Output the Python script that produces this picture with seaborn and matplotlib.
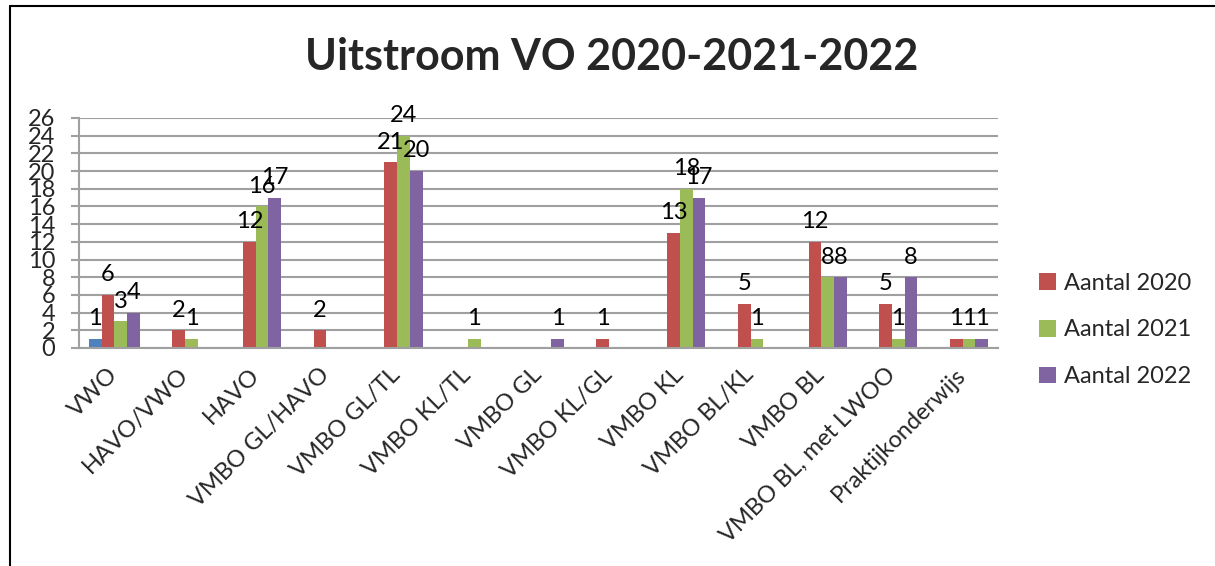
import numpy as np
import pandas as pd
import matplotlib
matplotlib.use("Agg")
import matplotlib.pyplot as plt
from matplotlib.lines import Line2D
from matplotlib.patches import Patch
import seaborn as sns

categories = ["VWO", "HAVO/VWO", "HAVO", "VMBO GL/HAVO", "VMBO GL/TL", "VMBO KL/TL",
              "VMBO GL", "VMBO KL/GL", "VMBO KL", "VMBO BL/KL", "VMBO BL",
              "VMBO BL, met LWOO", "Praktijkonderwijs"]
series_names = ["Reeks 1", "Aantal 2020", "Aantal 2021", "Aantal 2022"]
reeks1 = [1, 0, 0, 0, 0, 0, 0, 0, 0, 0, 0, 0, 0]
aantal_2020 = [6, 2, 12, 2, 21, 0, 0, 1, 13, 5, 12, 5, 1]
aantal_2021 = [3, 1, 16, 0, 24, 1, 0, 0, 18, 1, 8, 1, 1]
aantal_2022 = [4, 0, 17, 0, 20, 0, 1, 0, 17, 0, 8, 8, 1]
y_ticks = list(range(0, 27, 2))

colors = ["#4F81BD", "#C0504D", "#9BBB59", "#8064A2"]

rows = []
for name, vals in zip(series_names, [reeks1, aantal_2020, aantal_2021, aantal_2022]):
    for c, v in zip(categories, vals):
        rows.append({"categorie": c, "reeks": name, "waarde": v})
df = pd.DataFrame(rows)

sns.set_theme(style="white")
plt.rcParams["font.family"] = ["Lato", "DejaVu Sans"]

W, H = 1215, 566
fig = plt.figure(figsize=(W / 100, H / 100), dpi=100)
ax = fig.add_axes([79 / W, 1 - 348 / H, (998 - 79) / W, (348 - 118) / H])

sns.barplot(data=df, x="categorie", y="waarde", hue="reeks", order=categories,
            hue_order=series_names, palette=colors, width=0.72, gap=0,
            linewidth=0, saturation=1, ax=ax, legend=False, errorbar=None)

for cont in ax.containers:
    labels = [("%d" % b.get_height()) if b.get_height() > 0 else "" for b in cont]
    ax.bar_label(cont, labels=labels, padding=7, fontsize=17, color="black")

ax.set_ylim(0, 26)
ax.set_xlim(-0.5, len(categories) - 0.5)
ax.set_yticks(y_ticks)
ax.set_yticklabels([str(t) for t in y_ticks], fontsize=17)
ax.yaxis.grid(True, color="#A0A0A0", linewidth=1.5)
ax.set_axisbelow(True)
ax.set_xlabel("")
ax.set_ylabel("")

ax.set_xticks(range(len(categories)))
ax.set_xticklabels(categories, rotation=45, ha="right", va="center",
                   rotation_mode="anchor", fontsize=17)
ax.set_xticks(np.arange(-0.5, len(categories), 1), minor=True)
ax.tick_params(axis="x", which="major", length=0, pad=17)
ax.tick_params(axis="x", which="minor", length=6, width=1.5, color="#A0A0A0", direction="out")
ax.tick_params(axis="y", which="major", length=6, width=1.5, color="#A0A0A0", direction="out", pad=11, left=True)

for s in ["top", "right"]:
    ax.spines[s].set_visible(False)
for s in ["left", "bottom"]:
    ax.spines[s].set_visible(True)
    ax.spines[s].set_color("#A0A0A0")
    ax.spines[s].set_linewidth(1.5)

fig.text(612 / W, 1 - 57 / H, "Uitstroom VO 2020-2021-2022", ha="center", va="center",
         fontsize=31, fontweight="bold")

handles = [Patch(facecolor=c, edgecolor="none") for c in colors[1:]]
fig.legend(handles, series_names[1:], loc="center left", bbox_to_anchor=(1018 / W, 1 - 330 / H),
           frameon=False, fontsize=17, handlelength=0.7, handleheight=0.7,
           handletextpad=0.35, labelspacing=1.1)

fig.add_artist(Line2D([9.5 / W, 9.5 / W], [0, 1 - 6 / H], color="black", linewidth=1.5))
fig.add_artist(Line2D([9.5 / W, 1], [1 - 6 / H, 1 - 6 / H], color="black", linewidth=1.5))

fig.savefig("out.png", dpi=100, facecolor="white")
